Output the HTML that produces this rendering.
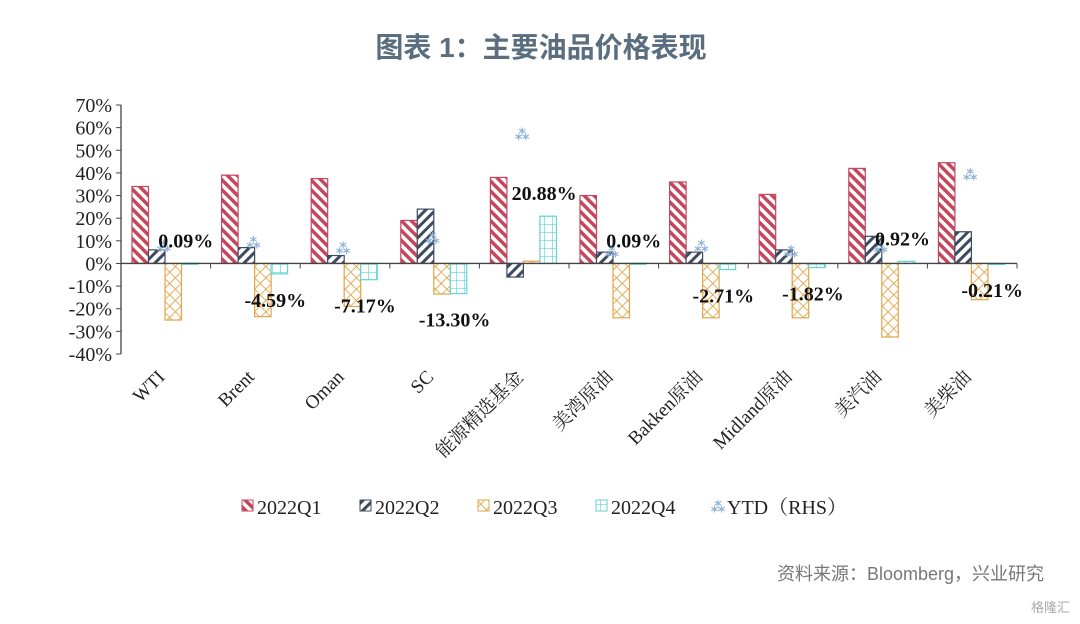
<!DOCTYPE html>
<html><head><meta charset="utf-8"><style>
body{margin:0;background:#fff;width:1080px;height:624px;overflow:hidden}
svg{display:block}
</style></head><body>
<svg width="1080" height="624" xmlns="http://www.w3.org/2000/svg">
<defs>
<pattern id="pQ1" width="7" height="7" patternUnits="userSpaceOnUse" patternTransform="rotate(-45)"><rect width="7" height="7" fill="#fff"/><rect width="3.5" height="7" fill="#c4475e"/></pattern>
<pattern id="pQ2" width="7" height="7" patternUnits="userSpaceOnUse" patternTransform="rotate(45)"><rect width="7" height="7" fill="#fff"/><rect width="3" height="7" fill="#3d4b60"/></pattern>
<pattern id="pQ3" width="8" height="8" patternUnits="userSpaceOnUse" patternTransform="rotate(45)"><rect width="8" height="8" fill="#fff"/><path d="M0 0H8M0 0V8" stroke="#e2a548" stroke-width="1.8"/></pattern>
<pattern id="pQ4" width="8" height="8" patternUnits="userSpaceOnUse"><rect width="8" height="8" fill="#fff"/><path d="M0 0H8M0 0V8" stroke="#5fd6d2" stroke-width="1.3"/></pattern>
</defs>
<text x="541" y="57" text-anchor="middle" font-family="Liberation Sans, Noto Sans CJK SC, sans-serif" font-size="28" font-weight="bold" fill="#5b6e80">图表 1：主要油品价格表现</text>
<g id="plot"></g>
<text x="1044" y="580" text-anchor="end" font-family="Liberation Sans, Noto Sans CJK SC, sans-serif" font-size="18" fill="#777">资料来源：Bloomberg，兴业研究</text>
<text x="1070" y="612" text-anchor="end" font-family="Liberation Sans, Noto Sans CJK SC, sans-serif" font-size="13" fill="#aaa">格隆汇</text>
</svg>
<script>
const categories=["WTI","Brent","Oman","SC","能源精选基金","美湾原油","Bakken原油","Midland原油","美汽油","美柴油"];
const q1=[34,39,37.5,19,38,30,36,30.5,42,44.5];
const q2=[6,7,3.5,24,-6,5,5,6,12,14];
const q3=[-25,-23.5,-19,-13.5,1,-24,-24,-24,-32.5,-16];
const q4=[0.09,-4.59,-7.17,-13.30,20.88,0.09,-2.71,-1.82,0.92,-0.21];
const ytd=[7.5,9,6.5,11,57,5,7.5,5,7,39];
const yTicks=[70,60,50,40,30,20,10,0,-10,-20,-30,-40];
const seriesNames=["2022Q1","2022Q2","2022Q3","2022Q4","YTD（RHS）"];

const NS="http://www.w3.org/2000/svg";
const g=document.getElementById('plot');
const x0=121,x1=1017,yTop=105,yBot=354,vMax=70,vMin=-40;
const y=v=>yTop+(vMax-v)/(vMax-vMin)*(yBot-yTop);
const gw=(x1-x0)/categories.length;
const bw=16.5,pad=11;
function mk(tag,attrs,parent){const e=document.createElementNS(NS,tag);for(const k in attrs)e.setAttribute(k,attrs[k]);(parent||g).appendChild(e);return e;}
const serif="Liberation Serif, Noto Serif CJK SC, serif";
let e=mk('line',{x1:x0,y1:yTop,x2:x0,y2:yBot,stroke:'#444','stroke-width':1.3});


yTicks.forEach(t=>{
  const l=mk('line',{x1:x0-5,y1:y(t),x2:x0,y2:y(t),stroke:'#444'});
  
  
  const tx=mk('text',{x:x0-9,y:y(t)+7,'text-anchor':'end','font-family':serif,'font-size':20,fill:'#222'});
  tx.textContent=t+'%';
  
  
});
const all=[q1,q2,q3,q4],pats=['pQ1','pQ2','pQ3','pQ4'],strokes=['#c4475e','#3d4b60','#e2a548','#5fd6d2'];
categories.forEach((c,i)=>{
  const gx=x0+i*gw;
  all.forEach((s,j)=>{
    const v=s[i],bx=gx+pad+j*bw,top=y(Math.max(v,0)),h=Math.abs(y(v)-y(0));
    const r=mk('rect',{x:bx,y:top,width:bw,height:Math.max(h,1),fill:'url(#'+pats[j]+')',stroke:strokes[j],'stroke-width':1.2});
    
    
  });
  const mx=gx+gw/2-2,my=y(ytd[i]);
  const m=mk('text',{x:mx,y:my+5,'text-anchor':'middle','font-size':14,fill:'#8fb0d8','font-family':'DejaVu Sans, sans-serif','font-weight':'bold'});
  m.textContent='⁂';
  
  
  const v=q4[i],lx=gx+pad+3*bw+bw/2-4;
  const ly=v>=0?y(v)-16:y(v)+33;
  const lb=mk('text',{x:lx,y:ly,'text-anchor':'middle','font-family':serif,'font-size':20,'font-weight':'bold',fill:'#111'});
  lb.textContent=v.toFixed(2)+'%';
  
  
  const cx=gx+gw/2,cy=378;
  const cl=mk('text',{x:cx,y:cy,'text-anchor':'end','font-family':serif,'font-size':19,fill:'#222',transform:'rotate(-45 '+cx+' '+cy+')'});
  cl.textContent=c;
  
  
});
e=mk('line',{x1:x0,y1:y(0),x2:x1,y2:y(0),stroke:'#444','stroke-width':1.3});


for(let i=0;i<=categories.length;i++){
  const t=mk('line',{x1:x0+i*gw,y1:y(0),x2:x0+i*gw,y2:y(0)+5,stroke:'#444'});
  
  
}
const lgX=[242,360,478,596,712];
seriesNames.forEach((n,j)=>{
  const lg=mk('g',{});
  
  
  if(j<4){mk('rect',{x:lgX[j],y:500,width:11,height:11,fill:'url(#'+pats[j]+')',stroke:strokes[j]},lg);}
  else{const s=mk('text',{x:lgX[j]+6,y:512,'text-anchor':'middle','font-size':14,fill:'#8fb0d8','font-family':'DejaVu Sans, sans-serif','font-weight':'bold'},lg);s.textContent='⁂';}
  const t=mk('text',{x:lgX[j]+15,y:514,'font-family':'Liberation Serif, Noto Serif CJK SC, serif','font-size':20,fill:'#222'},lg);
  t.textContent=n;
});
</script>
</body></html>
